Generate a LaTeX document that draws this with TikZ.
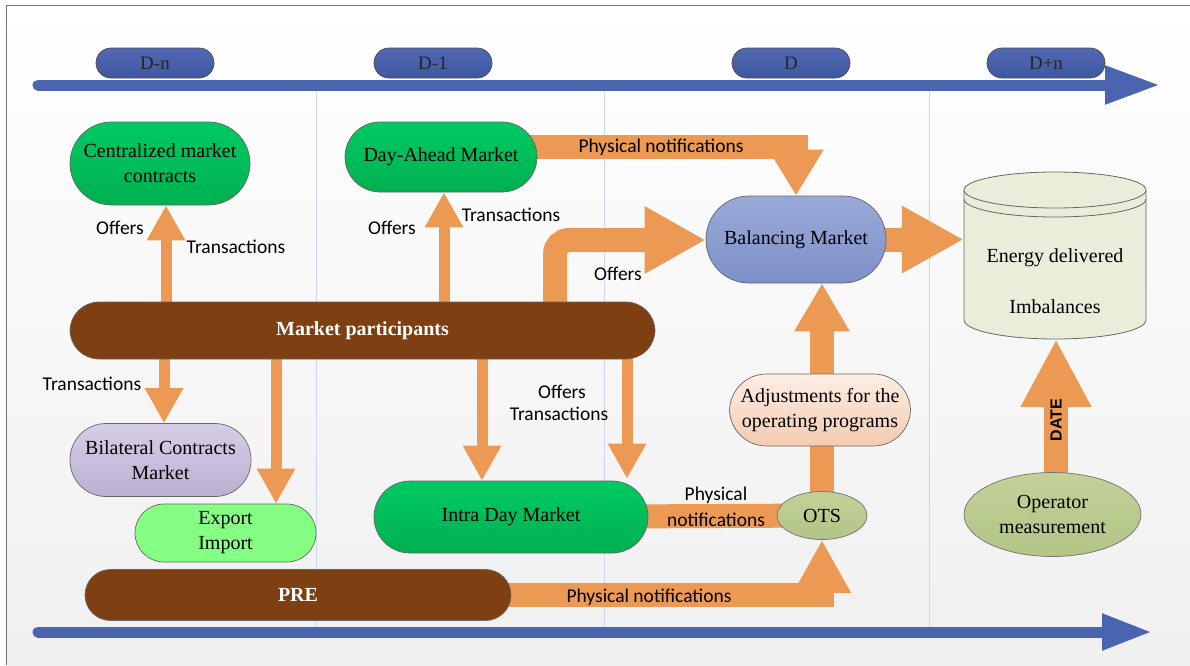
\documentclass[tikz,border=0pt]{standalone}
\usepackage{fontspec}
\setmainfont{Liberation Serif}
\newfontfamily\lblfont{Carlito}
\newfontfamily\sansfont{Liberation Sans}
\usetikzlibrary{arrows.meta,shapes.geometric,backgrounds}
\definecolor{orng}{HTML}{EB9953}
\definecolor{axblue}{HTML}{4A64AF}
\definecolor{pillT}{HTML}{5169B4}
\definecolor{pillB}{HTML}{3F56A0}
\definecolor{greenT}{HTML}{00CA62}
\definecolor{greenB}{HTML}{00B050}
\definecolor{brownc}{HTML}{7E3F12}
\definecolor{bmT}{HTML}{9AAAD8}
\definecolor{bmB}{HTML}{7D8FC8}
\definecolor{lavT}{HTML}{D6CEE6}
\definecolor{lavB}{HTML}{BCAFD2}
\definecolor{expc}{HTML}{84FF84}
\definecolor{adjT}{HTML}{FDEEE4}
\definecolor{adjB}{HTML}{F4CBB0}
\definecolor{oliveT}{HTML}{C2D198}
\definecolor{oliveB}{HTML}{B2C487}
\definecolor{cylc}{HTML}{E9EDDA}
\definecolor{sepc}{HTML}{C8D8EC}
\tikzset{
  nbase/.style={inner sep=0pt, align=center, font=\fontsize{20}{25}\selectfont, draw=black!60, line width=0.7pt},
  pill/.style={nbase, rectangle, rounded corners=#1},
  greennode/.style={top color=greenT, bottom color=greenB},
  brownnode/.style={fill=brownc, text=white, font=\fontsize{20}{25}\selectfont\bfseries},
  timepill/.style={pill=15pt, minimum width=118pt, minimum height=30pt, top color=pillT, bottom color=pillB, draw=black!70, font=\fontsize{19}{22}\selectfont, text=black!85},
  oval/.style={nbase, ellipse, top color=oliveT, bottom color=oliveB, draw=black!55},
  lbl/.style={font=\lblfont\fontsize{19.5}{23}\selectfont, inner sep=0pt},
  thinarr/.style={draw=orng, line width=11pt, line cap=round, -{Triangle[width=36pt,length=35pt]}},
  bigarr/.style 2 args={draw=orng, line width=24pt, line cap=round, -{Triangle[width=#1,length=#2]}},
  band/.style={draw=orng, line width=24pt},
  axisarrow/.style 2 args={draw=axblue, line width=11pt, line cap=round, -{Triangle[width=#1,length=#2]}},
  sepline/.style={draw=sepc, line width=1pt},
}
\begin{document}
\begin{tikzpicture}[x=1pt,y=-1pt]
\useasboundingbox (0,0) rectangle (1190,665);
\begin{scope}[on background layer]
  \shade[top color=white, bottom color=black!6] (6,5) rectangle (1190,665);
  \draw[black!55, line width=1pt] (6,665) -- (6,5) -- (1190,5);
  \draw[sepline] (316,91) -- (316,628);
  \draw[sepline] (604,91) -- (604,628);
  \draw[sepline] (929,91) -- (929,628);
\end{scope}

% time axes
\coordinate (a1s) at (38,85);
\coordinate (a1e) at (1160,85);
\draw[axisarrow={36pt}{55pt}] (a1s) -- (a1e);
\coordinate (a2s) at (38,632);
\coordinate (a2e) at (1152,632);
\draw[axisarrow={34pt}{50pt}] (a2s) -- (a2e);

\node[timepill] (tdn) at (155,63) {D-n};
\node[timepill] (td1) at (433,63) {D-1};
\node[timepill] (td)  at (791,63) {D};
\node[timepill] (tdp) at (1046,63) {D+n};

% nodes
\node[pill=41.5pt, greennode, minimum width=180pt, minimum height=83pt] (cmc) at (160,163.5) {Centralized market\\contracts};
\node[pill=35pt, greennode, minimum width=192pt, minimum height=70pt] (da) at (441,157) {Day-Ahead Market};
\node[pill=29pt, brownnode, minimum width=585pt, minimum height=57pt] (mp) at (362.5,330.5) {Market participants};
\node[pill=43pt, top color=bmT, bottom color=bmB, minimum width=180pt, minimum height=87pt] (bm) at (796,239.5) {Balancing Market};
\node[pill=36pt, top color=lavT, bottom color=lavB, minimum width=181pt, minimum height=73pt] (bcm) at (160.5,460) {Bilateral Contracts\\Market};
\node[pill=29pt, fill=expc, minimum width=181pt, minimum height=58pt] (ei) at (225.5,533) {Export\\Import};
\node[pill=36pt, greennode, minimum width=274pt, minimum height=72pt] (idm) at (511,517) {Intra Day Market};
\node[pill=25.5pt, brownnode, minimum width=426pt, minimum height=51pt] (pre) at (298,595) {PRE};
\node[pill=37pt, top color=adjT, bottom color=adjB, minimum width=181pt, minimum height=72pt] (adj) at (820,410) {Adjustments for the\\operating programs};
\node[oval, minimum width=90pt, minimum height=48pt] (ots) at (822,515.5) {OTS};
\node[oval, minimum width=177pt, minimum height=84pt] (om) at (1052.5,514.5) {Operator\\measurement};

% cylinder
\fill[cylc] (964,190) -- (964,320) arc[start angle=180, end angle=360, x radius=91pt, y radius=19pt] -- (1146,190) -- cycle;
\draw[black!60, line width=0.8pt] (964,190) -- (964,320) arc[start angle=180, end angle=360, x radius=91pt, y radius=19pt] -- (1146,190);
\filldraw[fill=cylc, draw=black!60, line width=0.8pt] (1055,190) ellipse[x radius=91pt, y radius=18pt];
\draw[black!60, line width=0.8pt] (964,199) arc[start angle=180, end angle=360, x radius=91pt, y radius=18pt];
\node[inner sep=0pt, minimum width=182pt, minimum height=167pt] (cyl) at (1055,255.5) {};
\node[font=\fontsize{20}{25}\selectfont, inner sep=0pt] (edt) at (1055,258) {Energy delivered};
\node[font=\fontsize{20}{25}\selectfont, inner sep=0pt] (imb) at (1055,307) {Imbalances};

% helper coordinates
\coordinate (xa) at (166,0);
\coordinate (xb) at (444,0);
\coordinate (xc) at (555,0);
\coordinate (xd) at (164,0);
\coordinate (xe) at (276,0);
\coordinate (xf) at (482,0);
\coordinate (xg) at (627,0);
\coordinate (xh) at (822,0);
\coordinate (xi) at (1056,0);
\coordinate (yj) at (0,147);
\coordinate (yk) at (0,240);

\begin{scope}[on background layer]
  \draw[thinarr] (xa |- mp.north) -- (xa |- cmc.south);
  \draw[thinarr] (xb |- mp.north) -- (xb |- da.south);
  \draw[thinarr] (xd |- mp.south) -- (xd |- bcm.north);
  \draw[thinarr] (xe |- mp.south) -- (xe |- ei.north);
  \draw[thinarr] (xf |- mp.south) -- (xf |- idm.north);
  \draw[thinarr] (xg |- mp.south) -- ([yshift=2pt]xg |- idm.north);
  \draw[bigarr={52pt}{46pt}, line join=miter] (da.center |- yj) -- (bm.north |- yj) -- (bm.north);
  \draw[bigarr={63pt}{61pt}, rounded corners=14pt] (xc |- mp.center) -- (xc |- yk) -- (bm.west |- yk);
  \draw[bigarr={63pt}{62pt}] (bm.center) -- (cyl.west |- bm.center);
  \draw[band] (idm.center) -- (ots.center);
  \draw[band] (xh |- ots.center) -- (xh |- adj.center);
  \draw[bigarr={52pt}{48pt}] (xh |- adj.north) -- (xh |- bm.south);
  \draw[bigarr={54pt}{53pt}, line join=miter, line cap=butt] (pre.center) -- (xh |- pre.center) -- (ots.south);
  \draw[bigarr={66pt}{68pt}] (xi |- om.center) -- (xi |- cyl.south);
\end{scope}

% labels
\node[lbl] (l1) at (120,228) {Offers};
\node[lbl] (l2) at (236,247) {Transactions};
\node[lbl] (l3) at (392,228) {Offers};
\node[lbl] (l4) at (511,215) {Transactions};
\node[lbl] (l5) at (661,147) {Physical notifications};
\node[lbl] (l6) at (618,274) {Offers};
\node[lbl] (l7) at (92,384) {Transactions};
\node[lbl] (l8) at (562,392) {Offers};
\node[lbl] (l9) at (559,414) {Transactions};
\node[lbl] (l10) at (716,495) {Physical};
\node[lbl] (l11) at (716,520) {notifications};
\node[lbl] (l12) at (649,597) {Physical notifications};
\node[font=\sansfont\bfseries\fontsize{16}{18}\selectfont, rotate=90, inner sep=0pt] (l13) at (1056,420) {DATE};
\end{tikzpicture}
\end{document}
